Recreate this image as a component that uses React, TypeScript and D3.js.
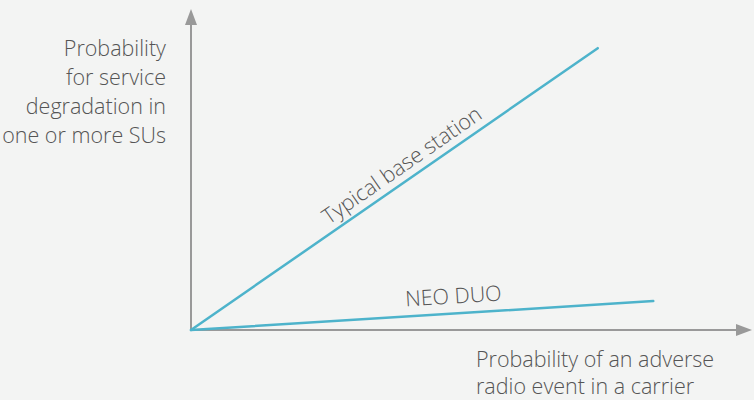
import React, { useEffect, useRef } from 'react';
import * as d3 from 'd3';

// abstract units, no ticks on the axes
const xDomain: [number, number] = [0, 100];
const yDomain: [number, number] = [0, 100];

const typicalSeries: [number, number][] = [[0, 0], [72.5, 87.8]];
const neoDuoSeries: [number, number][] = [[0, 0], [82.4, 9.0]];

const yLabelLines = ['Probability', 'for service', 'degradation in', 'one or more SUs'];
const xLabelLines = ['Probability of an adverse', 'radio event in a carrier'];

const seriesLabels = ['Typical base station', 'NEO DUO'];

const App: React.FC = () => {
  const svgRef = useRef<SVGSVGElement>(null);

  useEffect(() => {
    document.body.style.margin = '0';
    if (!svgRef.current) return;
    const svg = d3.select(svgRef.current);
    svg.selectAll('*').remove();

    const width = 754;
    const height = 400;
    const origin = { x: 191, y: 330 };
    const axisEnd = { x: 752, y: 9 };

    const font = "'Open Sans', 'Segoe UI', sans-serif";
    const textColor = '#555555';
    const axisColor = '#999999';
    const lineColor = '#4db3cb';
    const fontSize = '21.5px';

    svg.append('rect')
      .attr('width', width)
      .attr('height', height)
      .attr('fill', '#f3f4f3');

    const x = d3.scaleLinear().domain(xDomain).range([origin.x, axisEnd.x]);
    const y = d3.scaleLinear().domain(yDomain).range([origin.y, axisEnd.y]);

    // Axes
    svg.append('line')
      .attr('x1', origin.x).attr('y1', origin.y + 1)
      .attr('x2', origin.x).attr('y2', axisEnd.y + 12)
      .attr('stroke', axisColor).attr('stroke-width', 2);
    svg.append('path')
      .attr('d', `M${origin.x},${axisEnd.y} L${origin.x - 6},${axisEnd.y + 16} L${origin.x + 6},${axisEnd.y + 16} Z`)
      .attr('fill', axisColor);

    svg.append('line')
      .attr('x1', origin.x - 1).attr('y1', origin.y)
      .attr('x2', axisEnd.x - 12).attr('y2', origin.y)
      .attr('stroke', axisColor).attr('stroke-width', 2);
    svg.append('path')
      .attr('d', `M${axisEnd.x},${origin.y} L${axisEnd.x - 16},${origin.y - 6} L${axisEnd.x - 16},${origin.y + 6} Z`)
      .attr('fill', axisColor);

    // Series lines
    const line = d3.line<[number, number]>()
      .x(d => x(d[0]))
      .y(d => y(d[1]));

    [typicalSeries, neoDuoSeries].forEach(s => {
      svg.append('path')
        .datum(s)
        .attr('d', line)
        .attr('fill', 'none')
        .attr('stroke', lineColor)
        .attr('stroke-width', 2.5)
        .attr('stroke-linecap', 'round');
    });

    // Series labels along the lines
    const angleOf = (s: [number, number][]) => {
      const [a, b] = s;
      return Math.atan2(y(b[1]) - y(a[1]), x(b[0]) - x(a[0])) * 180 / Math.PI;
    };

    const tAngle = angleOf(typicalSeries);
    const tFrac = 0.54;
    const tx = x(typicalSeries[1][0] * tFrac);
    const ty = y(typicalSeries[1][1] * tFrac);
    svg.append('text')
      .attr('transform', `translate(${tx},${ty}) rotate(${tAngle})`)
      .attr('text-anchor', 'middle')
      .attr('dy', -8)
      .style('font-family', font)
      .style('font-weight', 300)
      .style('font-size', fontSize)
      .style('fill', textColor)
      .text(seriesLabels[0]);

    const nAngle = angleOf(neoDuoSeries);
    const nFrac = 0.57;
    const nx = x(neoDuoSeries[1][0] * nFrac);
    const ny = y(neoDuoSeries[1][1] * nFrac);
    svg.append('text')
      .attr('transform', `translate(${nx},${ny}) rotate(${nAngle})`)
      .attr('text-anchor', 'middle')
      .attr('dy', -10)
      .style('font-family', font)
      .style('font-weight', 300)
      .style('font-size', fontSize)
      .style('fill', textColor)
      .text(seriesLabels[1]);

    // Axis titles
    const yl = svg.append('text')
      .attr('text-anchor', 'end')
      .style('font-family', font)
      .style('font-weight', 300)
      .style('font-size', fontSize)
      .style('fill', textColor);
    yLabelLines.forEach((t, i) => {
      yl.append('tspan').attr('x', 166).attr('y', 56 + i * 29).text(t);
    });

    const xl = svg.append('text')
      .attr('text-anchor', 'start')
      .style('font-family', font)
      .style('font-weight', 300)
      .style('font-size', fontSize)
      .style('fill', textColor);
    xLabelLines.forEach((t, i) => {
      xl.append('tspan').attr('x', 476).attr('y', 367 + i * 27).text(t);
    });
  }, []);

  return <svg ref={svgRef} width={754} height={400} style={{ display: 'block' }} />;
};

export default App;
